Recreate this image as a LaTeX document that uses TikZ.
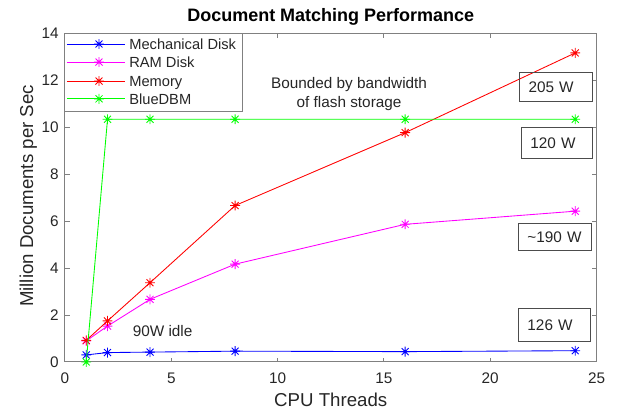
\documentclass[tikz,border=0pt]{standalone}
\usepackage{fontspec}
\setmainfont{Liberation Sans}
\usepackage{xcolor}
\usetikzlibrary{plotmarks}

\definecolor{axisgray}{gray}{0.5}
\definecolor{labelgray}{gray}{0.15}
\definecolor{mechblue}{RGB}{0,0,255}
\definecolor{rampink}{RGB}{255,0,255}
\definecolor{memred}{RGB}{255,0,0}
\definecolor{dbmgreen}{RGB}{0,255,0}

% eight-spoke star marker
\pgfdeclareplotmark{matstar}{%
  \pgfpathmoveto{\pgfqpoint{-\pgfplotmarksize}{0pt}}%
  \pgfpathlineto{\pgfqpoint{\pgfplotmarksize}{0pt}}%
  \pgfpathmoveto{\pgfqpoint{0pt}{-\pgfplotmarksize}}%
  \pgfpathlineto{\pgfqpoint{0pt}{\pgfplotmarksize}}%
  \pgfpathmoveto{\pgfqpoint{-.707\pgfplotmarksize}{-.707\pgfplotmarksize}}%
  \pgfpathlineto{\pgfqpoint{.707\pgfplotmarksize}{.707\pgfplotmarksize}}%
  \pgfpathmoveto{\pgfqpoint{-.707\pgfplotmarksize}{.707\pgfplotmarksize}}%
  \pgfpathlineto{\pgfqpoint{.707\pgfplotmarksize}{-.707\pgfplotmarksize}}%
  \pgfusepathqstroke}

\begin{document}
\begin{tikzpicture}[
  x=15.95pt, y=17.59pt,
  axisline/.style={draw=axisgray, line width=0.75pt},
  series/.style={line width=0.65pt, mark=matstar, mark size=3.7pt},
  ticklabel/.style={font=\fontsize{11.5}{13}\selectfont, text=labelgray, inner sep=1pt},
  axlabel/.style={font=\fontsize{14}{16}\selectfont, text=labelgray, anchor=base},
  legtext/.style={font=\fontsize{11}{13}\selectfont, text=labelgray, anchor=base west, inner sep=1pt},
  note/.style={font=\fontsize{11.5}{14.25}\selectfont, text=labelgray, align=center},
  wattbox/.style={draw=black!70, line width=0.6pt, anchor=north west, inner xsep=6.75pt,
    text width=41pt, align=left, font=\fontsize{11.5}{13}\selectfont, text=labelgray}
]
\useasboundingbox (-3.057,-2.047) rectangle (26.01,15.437);

% axes
\draw[axisline] (0,0) rectangle (25,14);
\foreach \t in {0,5,...,25} {
  \draw[axisline] (\t,0) -- ++(0,3pt);
  \draw[axisline] (\t,14) -- ++(0,-3pt);
  \node[ticklabel, anchor=north] (xt\t) at (\t,-0.41) {\t};
}
\foreach \v in {0,2,...,14} {
  \draw[axisline] (0,\v) -- ++(3.5pt,0);
  \draw[axisline] (25,\v) -- ++(-3.5pt,0);
  \node[ticklabel, anchor=east] (yt\v) at (-0.22,\v) {\v};
}

\node[font=\fontsize{13.5}{16}\selectfont\bfseries, anchor=base] (title) at (12.5,14.5) {Document Matching Performance};
\node[axlabel] (xlabel) at (12.5,-1.92) {CPU Threads};
\node[axlabel, rotate=90] (ylabel) at (-1.5,7.08) {Million Documents per Sec};

% data
\draw[series, mechblue] plot coordinates {(1,0.3) (2,0.4) (4,0.42) (8,0.46) (16,0.44) (24,0.48)};
\draw[series, rampink] plot coordinates {(1,0.9) (2,1.53) (4,2.67) (8,4.17) (16,5.87) (24,6.43)};
\draw[series, memred] plot coordinates {(1,0.92) (2,1.75) (4,3.38) (8,6.67) (16,9.78) (24,13.18)};
\draw[series, dbmgreen] plot coordinates {(1,0) (2,10.35) (4,10.35) (8,10.35) (16,10.35) (24,10.35)};

% annotations
\node[note] (bound) at (13.36,11.41) {Bounded by bandwidth\\of flash storage};
\node[note, anchor=base] (idle) at (4.59,1.07) {90W idle};
\node[wattbox, minimum height=21.75pt] (w205) at (21.36,12.37) {205 W};
\node[wattbox, minimum height=23.25pt, text width=39.75pt] (w120) at (21.45,10.02) {120 W};
\node[wattbox, minimum height=20.25pt] (w190) at (21.31,5.93) {\textasciitilde190 W};
\node[wattbox, minimum height=24.75pt, text width=40.5pt] (w126) at (21.31,2.30) {126 W};

% legend
\draw[axisline, fill=white] (0,14) rectangle (8.33,10.66);
\foreach \lbl/\col/\row in {Mechanical Disk/mechblue/13.56, RAM Disk/rampink/12.79,
    Memory/memred/11.98, BlueDBM/dbmgreen/11.22} {
  \draw[\col, line width=0.65pt] (0.09,\row) -- (2.82,\row);
  \path[series, \col] plot coordinates {(1.6,\row)};
  \node[legtext, yshift=-3.9pt] at (2.95,\row) {\lbl};
}
\end{tikzpicture}
\end{document}
